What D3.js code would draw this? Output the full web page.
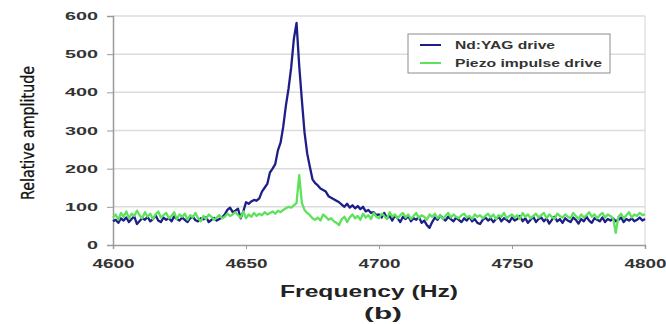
<!DOCTYPE html>
<html>
<head>
<meta charset="utf-8">
<script src="https://cdn.jsdelivr.net/npm/d3@7"></script>
<style>
  body { margin: 0; background: #fff; }
  svg { display: block; }
</style>
</head>
<body>
<svg id="chart" width="666" height="324"></svg>
<script>
// frequency axis, 1 Hz step from 4600 to 4800
const freqStart = 4600;
const freqEnd = 4800;

// Nd:YAG drive (blue)
const ndyag = [
  62, 66, 58, 70, 64, 72, 60, 68, 75, 55,
  63, 70, 66, 74, 62, 68, 78, 64, 60, 72,
  66, 70, 62, 75, 68, 64, 72, 66, 60, 70,
  74, 65, 62, 70, 67, 73, 60, 66, 71, 64,
  68, 72, 80, 92, 98, 86, 90, 95, 70, 88,
  112, 108, 114, 118, 116, 122, 140, 150, 160, 190,
  200, 212, 248, 268, 310, 365, 410, 466, 540, 582,
  470, 380, 295, 240, 205, 172, 162, 156, 148, 144,
  140, 128, 124, 120, 116, 112, 106, 100, 108, 98,
  104, 96, 102, 94, 100, 88, 92, 84, 86, 78,
  80, 72, 84, 70, 76, 64, 78, 70, 60, 74,
  68, 76, 62, 70, 66, 74, 58, 64, 52, 45,
  60, 72, 66, 78, 70, 64, 74, 68, 62, 72,
  66, 60, 70, 64, 74, 62, 68, 58, 55, 66,
  72, 64, 70, 60, 68, 74, 62, 70, 66, 60,
  72, 64, 68, 76, 62, 70, 58, 66, 74, 60,
  68, 72, 62, 70, 56, 66, 74, 62, 68, 58,
  70, 64, 60, 72, 66, 56, 68, 62, 74, 64,
  58, 70, 66, 62, 72, 60, 68, 64, 70, 62,
  66, 72, 60, 68, 64, 70, 62, 66, 72, 64,
  68
];

// Piezo impulse drive (green)
const piezo = [
  72, 80, 66, 84, 74, 88, 70, 82, 76, 90,
  78, 70, 86, 74, 82, 68, 80, 88, 72, 78,
  84, 70, 76, 86, 68, 80, 74, 82, 66, 78,
  72, 84, 70, 62, 76, 68, 80, 74, 66, 72,
  78, 70, 74, 82, 76, 80, 86, 78, 72, 88,
  70, 80, 74, 84, 76, 82, 78, 86, 80, 84,
  88, 82, 90, 86, 92, 96, 100, 98, 104, 110,
  183, 110, 92, 84, 78, 70, 66, 72, 64, 80,
  74, 66, 70, 62, 58, 52, 68, 74, 60, 72,
  80, 70, 76, 66, 82, 72, 78, 68, 84, 74,
  70, 82, 76, 68, 86, 74, 80, 70, 78, 84,
  72, 80, 68, 76, 84, 70, 78, 74, 66, 80,
  74, 82, 70, 78, 68, 76, 84, 72, 80, 74,
  70, 78, 82, 72, 76, 68, 80, 74, 78, 70,
  76, 82, 72, 80, 68, 78, 74, 84, 70, 76,
  80, 72, 78, 68, 84, 74, 80, 70, 76, 82,
  72, 78, 84, 70, 80, 74, 68, 82, 76, 72,
  80, 74, 70, 84, 76, 68, 80, 72, 78, 86,
  74, 80, 70, 78, 84, 72, 80, 76, 70, 32,
  74, 82, 70, 78, 86, 72, 80, 76, 84, 78,
  80
];

const xTicks = [4600, 4650, 4700, 4750, 4800];
const yTicks = [0, 100, 200, 300, 400, 500, 600];
const seriesNames = ["Nd:YAG drive", "Piezo impulse drive"];
const colors = ["#1e1e88", "#5ee25e"];

const margin = { top: 16, right: 21, bottom: 79, left: 113 };
const width = 666, height = 324;

const svg = d3.select("#chart");

const x = d3.scaleLinear([freqStart, freqEnd], [margin.left, width - margin.right]);
const y = d3.scaleLinear([0, 600], [height - margin.bottom, margin.top]);

// grid
svg.append("g")
  .selectAll("line")
  .data(yTicks.filter(d => d > 0))
  .join("line")
    .attr("x1", margin.left)
    .attr("x2", width - margin.right)
    .attr("y1", d => y(d))
    .attr("y2", d => y(d))
    .attr("stroke", "#dcdcdc")
    .attr("stroke-width", 1.5);

// right border of plot
svg.append("line")
  .attr("x1", width - margin.right).attr("x2", width - margin.right)
  .attr("y1", y(600)).attr("y2", y(0))
  .attr("stroke", "#d4d4d4");

// y axis
const yAxis = d3.axisLeft(y).tickValues(yTicks).tickSize(6).tickPadding(9);
svg.append("g")
  .attr("transform", `translate(${margin.left},0)`)
  .call(yAxis)
  .call(g => g.select(".domain").attr("stroke", "#9a9a9a").attr("stroke-width", 1.5))
  .call(g => g.selectAll(".tick line").attr("stroke", "#9a9a9a"))
  .call(g => g.selectAll(".tick text")
      .attr("font-family", "'Liberation Sans', Arial, sans-serif")
      .attr("font-weight", "bold")
      .attr("font-size", 11)
      .attr("fill", "#333")
      .attr("textLength", d => String(d).length * 11)
      .attr("lengthAdjust", "spacingAndGlyphs"));

// x axis
const xAxis = d3.axisBottom(x).tickValues(xTicks).tickFormat(d3.format("d")).tickSize(4).tickPadding(10);
svg.append("g")
  .attr("transform", `translate(0,${height - margin.bottom})`)
  .call(xAxis)
  .call(g => g.select(".domain").attr("stroke", "#9a9a9a").attr("stroke-width", 1.5))
  .call(g => g.selectAll(".tick line").attr("stroke", "#9a9a9a"))
  .call(g => g.selectAll(".tick text")
      .attr("font-family", "'Liberation Sans', Arial, sans-serif")
      .attr("font-weight", "bold")
      .attr("font-size", 12)
      .attr("fill", "#333")
      .attr("textLength", 42)
      .attr("lengthAdjust", "spacingAndGlyphs"));

// lines
const line = d3.line()
  .x((d, i) => x(freqStart + i))
  .y(d => y(d));

[ndyag, piezo].forEach((s, k) => {
  svg.append("path")
    .datum(s)
    .attr("fill", "none")
    .attr("stroke", colors[k])
    .attr("stroke-width", 2.3)
    .attr("stroke-linejoin", "round")
    .attr("d", line);
});

// legend
const legend = svg.append("g").attr("transform", "translate(408,34)");
legend.append("rect")
  .attr("width", 202).attr("height", 39)
  .attr("fill", "#fff")
  .attr("stroke", "#8c8c8c");
seriesNames.forEach((name, k) => {
  const ly = 11 + k * 18;
  legend.append("line")
    .attr("x1", 12).attr("x2", 33)
    .attr("y1", ly).attr("y2", ly)
    .attr("stroke", colors[k])
    .attr("stroke-width", 2);
  legend.append("text")
    .attr("x", 47).attr("y", ly + 3.5)
    .attr("font-family", "'Liberation Sans', Arial, sans-serif")
    .attr("font-weight", "bold")
    .attr("font-size", 10)
    .attr("fill", "#333")
    .attr("textLength", k === 0 ? 100 : 147)
    .attr("lengthAdjust", "spacingAndGlyphs")
    .text(name);
});

// axis titles
svg.append("text")
  .attr("transform", "translate(34,133) rotate(-90)")
  .attr("text-anchor", "middle")
  .attr("font-family", "'Liberation Sans Narrow', 'DejaVu Sans Condensed', sans-serif")
  .attr("font-size", 18)
  .attr("fill", "#111")
  .attr("stroke", "#111")
  .attr("stroke-width", 0.3)
  .attr("textLength", 134)
  .attr("lengthAdjust", "spacingAndGlyphs")
  .text("Relative amplitude");

svg.append("text")
  .attr("x", 369).attr("y", 297)
  .attr("text-anchor", "middle")
  .attr("font-family", "'Liberation Sans', Arial, sans-serif")
  .attr("font-weight", "bold")
  .attr("font-size", 17)
  .attr("fill", "#222")
  .attr("textLength", 178)
  .attr("lengthAdjust", "spacingAndGlyphs")
  .text("Frequency (Hz)");

svg.append("text")
  .attr("x", 383).attr("y", 319)
  .attr("text-anchor", "middle")
  .attr("font-family", "'Liberation Sans', Arial, sans-serif")
  .attr("font-weight", "bold")
  .attr("font-size", 17)
  .attr("fill", "#222")
  .attr("textLength", 38)
  .attr("lengthAdjust", "spacingAndGlyphs")
  .text("(b)");
</script>
</body>
</html>
